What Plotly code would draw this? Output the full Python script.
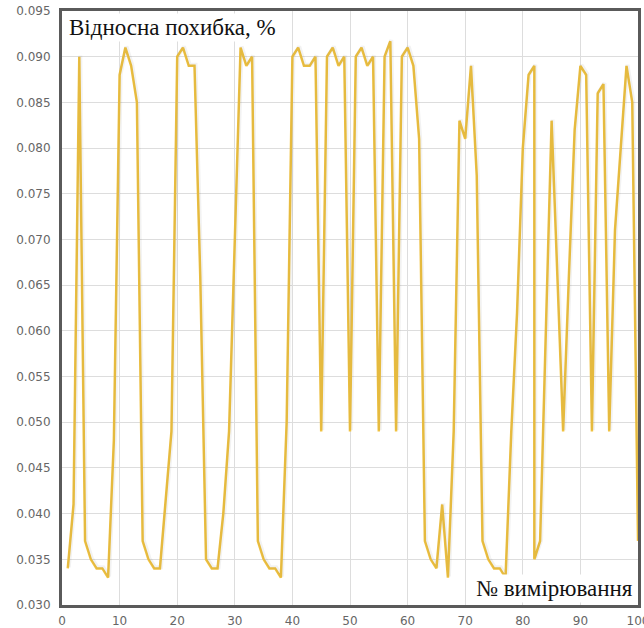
import plotly.graph_objects as go

# Measurement number and relative error (%) for each measurement
measurement = [
    1, 2, 3, 4, 5, 6, 7, 8, 9, 10,
    11, 12, 13, 14, 15, 16, 17, 18, 19, 20,
    21, 22, 23, 24, 25, 26, 27, 28, 29, 30,
    31, 32, 33, 34, 35, 36, 37, 38, 39, 40,
    41, 42, 43, 44, 45, 46, 47, 48, 49, 50,
    51, 52, 53, 54, 55, 56, 57, 58, 59, 60,
    61, 62, 63, 64, 65, 66, 67, 68, 69, 70,
    71, 72, 73, 74, 75, 76, 77, 78, 79, 80,
    81, 82, 82, 83, 84, 85, 86, 87, 88, 89, 90,
    91, 92, 93, 94, 95, 96, 97, 98, 99, 100,
]
relative_error = [
    0.034, 0.041, 0.090, 0.037, 0.035, 0.034, 0.034, 0.033, 0.048, 0.088,
    0.091, 0.089, 0.085, 0.037, 0.035, 0.034, 0.034, 0.042, 0.049, 0.090,
    0.091, 0.089, 0.089, 0.066, 0.035, 0.034, 0.034, 0.040, 0.049, 0.070,
    0.091, 0.089, 0.090, 0.037, 0.035, 0.034, 0.034, 0.033, 0.050, 0.090,
    0.091, 0.089, 0.089, 0.090, 0.049, 0.090, 0.091, 0.089, 0.090, 0.049,
    0.090, 0.091, 0.089, 0.090, 0.049, 0.090, 0.0917, 0.049, 0.090, 0.091,
    0.089, 0.081, 0.037, 0.035, 0.034, 0.041, 0.033, 0.049, 0.083, 0.081,
    0.089, 0.077, 0.037, 0.035, 0.034, 0.034, 0.033, 0.049, 0.062, 0.080,
    0.088, 0.089, 0.035, 0.037, 0.060, 0.083, 0.066, 0.049, 0.066, 0.082, 0.089,
    0.088, 0.049, 0.086, 0.087, 0.049, 0.071, 0.080, 0.089, 0.085, 0.037,
]

x_ticks = list(range(0, 101, 10))
y_ticks = [round(0.030 + 0.005 * i, 3) for i in range(14)]

y_title = "Відносна похибка, %"
x_title = "№ вимірювання"

fig = go.Figure()

# faint shadow under the series line
fig.add_trace(go.Scatter(
    x=measurement, y=relative_error, mode="lines",
    line=dict(color="rgba(0,0,0,0.05)", width=4),
    hoverinfo="skip", showlegend=False,
    xaxis="x2", yaxis="y2",
))

fig.add_trace(go.Scatter(
    x=measurement, y=relative_error, mode="lines",
    line=dict(color="#F2C443", width=2.5),
    showlegend=False,
))

tick_font = dict(family="DejaVu Sans", size=12, color="#666666")
label_font = dict(family="Liberation Serif, Times New Roman, serif", size=23, color="#111111")

fig.update_layout(
    width=644, height=628,
    margin=dict(l=62, r=6, t=11, b=23, autoexpand=False),
    paper_bgcolor="white",
    plot_bgcolor="white",
    xaxis=dict(
        range=[0, 100], tickvals=x_ticks, ticktext=[str(v) for v in x_ticks],
        showgrid=True, gridcolor="#dddddd", gridwidth=1,
        showline=True, linecolor="#5a5a5a", linewidth=3, mirror=True,
        ticks="", tickfont=tick_font, zeroline=False, automargin=False,
        ticklabelstandoff=3, ticklabeloverflow="allow",
    ),
    yaxis=dict(
        range=[0.030, 0.095], tickvals=y_ticks,
        ticktext=[f"{v:.3f}" for v in y_ticks],
        showgrid=True, gridcolor="#dddddd", gridwidth=1,
        showline=True, linecolor="#5a5a5a", linewidth=3, mirror=True,
        ticks="", tickfont=tick_font, zeroline=False, ticklabelstandoff=6,
        ticklabeloverflow="allow", automargin=False,
    ),
    # shadow axes, shifted by a pixel or so
    xaxis2=dict(range=[-0.18, 99.82], overlaying="x", visible=False),
    yaxis2=dict(range=[0.02988, 0.09488], overlaying="y", visible=False),
    annotations=[
        dict(
            text=y_title, xref="paper", yref="paper", x=0.0, y=1.0,
            xanchor="left", yanchor="top", xshift=5, yshift=-2,
            showarrow=False, bgcolor="white", borderpad=1,
            font=label_font,
        ),
        dict(
            text=x_title, xref="paper", yref="paper", x=1.0, y=0.0,
            xanchor="right", yanchor="bottom", xshift=-3, yshift=2,
            showarrow=False, bgcolor="white", borderpad=1,
            font=label_font,
        ),
    ],
)

fig.write_html("out.html")
